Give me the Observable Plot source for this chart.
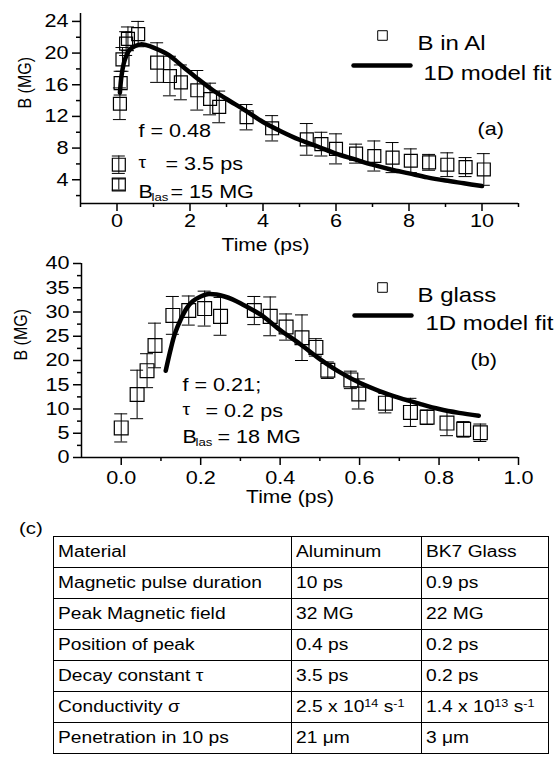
<!DOCTYPE html>
<html><head><meta charset="utf-8">
<script src="https://cdn.jsdelivr.net/npm/d3@7"></script>
<script src="https://cdn.jsdelivr.net/npm/@observablehq/plot@0.6"></script>
<style>
body{margin:0;background:#fff;}
#wrap{position:relative;width:558px;height:764px;overflow:hidden;background:#fff;font-family:"Liberation Sans",Arial,Helvetica,sans-serif;color:#000;}
#wrap svg{position:absolute;left:0;}
#tbl{position:absolute;left:53px;top:536px;width:495px;border-collapse:collapse;font-size:16px;table-layout:fixed;}
#tbl td{border:1.5px solid #000;height:30px;padding:0 0 0 4px;white-space:nowrap;overflow:visible;line-height:1;}
#tbl td span{display:inline-block;transform:scaleX(1.2);transform-origin:0 50%;}
#tbl sup{font-size:10.5px;vertical-align:5px;line-height:0;}
#clab{position:absolute;left:19px;top:519px;font-size:17px;transform:scaleX(1.2);transform-origin:0 50%;}
</style></head><body><div id="wrap"></div>
<script>
// ---------- Panel (a): B in Al ----------
const alT   = [0.05, 0.05, 0.08, 0.10, 0.15, 0.25, 0.30, 0.58, 1.10, 1.45, 1.75, 2.20, 2.55, 2.80, 3.55, 4.25, 5.20, 5.60, 6.00, 6.55, 7.05, 7.55, 8.05, 8.55, 9.05, 9.55, 10.05];
const alB   = [3.4, 5.9, 13.6, 16.2, 19.2, 21.2, 21.8, 22.4, 18.8, 17.1, 16.3, 15.3, 14.2, 13.2, 11.9, 10.5, 9.1, 8.5, 7.9, 7.3, 7.0, 6.8, 6.4, 6.2, 5.9, 5.6, 5.3];
const alErr = [0.7, 1.1, 2.0, 1.5, 1.5, 1.5, 1.5, 1.6, 2.5, 2.5, 2.2, 2.5, 2.0, 2.0, 1.6, 1.6, 2.0, 1.5, 1.9, 1.2, 1.9, 1.9, 1.5, 1.0, 1.5, 1.2, 2.0];
const alFitT = [0.08, 0.12, 0.18, 0.25, 0.36, 0.5, 0.65, 0.8, 1.0, 1.4, 1.8, 2.2, 2.6, 3.0, 3.5, 4.0, 4.5, 5.0, 5.5, 6.0, 6.5, 7.0, 7.5, 8.0, 8.5, 9.0, 9.5, 10.0];
const alFitB = [15.0, 17.0, 18.6, 19.6, 20.5, 20.9, 21.1, 21.0, 20.7, 19.8, 18.3, 16.8, 15.4, 14.2, 12.8, 11.3, 10.1, 9.05, 8.2, 7.3, 6.6, 5.9, 5.3, 4.8, 4.3, 3.9, 3.55, 3.2];
const alXDomain = [-1, 11], alYDomain = [1, 25];
const alXTicks = [0, 2, 4, 6, 8, 10], alXMinor = [-1, 1, 3, 5, 7, 9, 11];
const alYTicks = [4, 8, 12, 16, 20, 24], alYMinor = [2, 6, 10, 14, 18, 22];

// ---------- Panel (b): B glass ----------
const glT   = [0.0, 0.04, 0.065, 0.085, 0.13, 0.17, 0.21, 0.25, 0.335, 0.375, 0.415, 0.455, 0.49, 0.52, 0.578, 0.598, 0.665, 0.728, 0.77, 0.82, 0.862, 0.904];
const glB   = [6.1, 13.0, 17.9, 23.1, 29.3, 30.3, 30.7, 29.1, 30.3, 29.1, 26.9, 24.7, 22.7, 18.0, 16.0, 13.1, 11.2, 9.3, 8.3, 7.1, 5.8, 5.1];
const glErr = [2.9, 5.0, 3.5, 4.6, 3.9, 3.0, 3.6, 3.9, 2.9, 4.0, 2.7, 4.7, 1.8, 1.7, 1.8, 3.1, 2.0, 2.9, 1.5, 2.6, 1.6, 1.8];
const glFitT = [0.112, 0.125, 0.135, 0.15, 0.165, 0.18, 0.2, 0.22, 0.24, 0.26, 0.28, 0.3, 0.35, 0.4, 0.45, 0.5, 0.55, 0.6, 0.65, 0.7, 0.75, 0.8, 0.85, 0.9];
const glFitB = [17.9, 22.5, 25.5, 28.5, 30.8, 32.2, 33.2, 33.7, 33.6, 33.2, 32.6, 31.8, 29.5, 26.3, 23.4, 20.3, 17.6, 15.4, 13.7, 12.3, 11.1, 10.0, 9.2, 8.6];
const glXDomain = [-0.1, 1.0], glYDomain = [0, 40];
const glXTicks = [0, 0.2, 0.4, 0.6, 0.8, 1.0], glXMinor = [0.1, 0.3, 0.5, 0.7, 0.9];
const glYTicks = [0, 5, 10, 15, 20, 25, 30, 35, 40], glYMinor = [2.5, 7.5, 12.5, 17.5, 22.5, 27.5, 32.5, 37.5];

// ---------- Text ----------
const axisTime = "Time (ps)", axisB = "B (MG)", fitName = "1D model fit";
const alName = "B in Al", glName = "B glass";
const alParams = ["f = 0.48", "= 3.5 ps", "= 15 MG"], glParams = ["f = 0.21;", "= 0.2 ps", "= 18 MG"];
const tableHeader = ["Material", "Aluminum", "BK7 Glass"];
const tableRows = [
  ["Magnetic pulse duration", "10 ps", "0.9 ps"],
  ["Peak Magnetic field", "32 MG", "22 MG"],
  ["Position of peak", "0.4 ps", "0.2 ps"],
  ["Decay constant τ", "3.5 ps", "0.2 ps"],
  ["Conductivity σ", "2.5 x 10<sup>14</sup> s<sup>-1</sup>", "1.4 x 10<sup>13</sup> s<sup>-1</sup>"],
  ["Penetration in 10 ps", "21 μm", "3 μm"]
];

const K = 1.2; // horizontal glyph stretch seen in the reference
const FONT = '"Liberation Sans", Arial, Helvetica, sans-serif';
const lineSymbol = {draw(ctx, size) { const h = Math.sqrt(size / Math.PI); ctx.moveTo(-h, 0); ctx.lineTo(h, 0); }};

function panel(cfg) {
  const pts = cfg.t.map((t, i) => ({t, B: cfg.B[i], lo: cfg.B[i] - cfg.err[i], hi: cfg.B[i] + cfg.err[i]}));
  const fit = cfg.fitT.map((t, i) => ({t, B: cfg.fitB[i]}));
  const L = cfg.lay;
  const txt = (s, o) => Plot.text([s], {text: d => d, frameAnchor: "top-left", textAnchor: "start", fill: "black", ...o});
  return Plot.plot({
    width: 558, height: cfg.height,
    marginLeft: cfg.ml, marginRight: 40, marginTop: 13, marginBottom: cfg.height - 13 - 190 - cfg.extraH,
    style: {fontFamily: FONT, fontSize: "18px", color: "black", background: "transparent", overflow: "visible"},
    x: {domain: cfg.xDomain}, y: {domain: cfg.yDomain},
    marks: [
      Plot.ruleX([cfg.xDomain[0]], {stroke: "black", strokeWidth: 1.5}),
      Plot.ruleY([cfg.yDomain[0]], {stroke: "black", strokeWidth: 1.5}),
      Plot.axisX(cfg.xTicks, {tickSize: 8, tickPadding: cfg.xPad, strokeWidth: 1.5, fontSize: 18, tickFormat: cfg.xFmt, label: null}),
      Plot.axisX(cfg.xMinor, {tickSize: 4, strokeWidth: 1.5, text: null, label: null}),
      Plot.axisY(cfg.yTicks, {tickSize: 8, tickPadding: 4, strokeWidth: 1.5, fontSize: 18, label: null}),
      Plot.axisY(cfg.yMinor, {tickSize: 4, strokeWidth: 1.5, text: null, label: null}),
      Plot.ruleX(pts, {x: "t", y1: "lo", y2: "hi", stroke: "black", strokeWidth: 1}),
      Plot.ruleY(pts, {y: "hi", x1: "t", x2: "t", insetLeft: -6.5, insetRight: -6.5, stroke: "black", strokeWidth: 1}),
      Plot.ruleY(pts, {y: "lo", x1: "t", x2: "t", insetLeft: -6.5, insetRight: -6.5, stroke: "black", strokeWidth: 1}),
      Plot.dot(pts, {x: "t", y: "B", symbol: "square", r: cfg.r, stroke: "black", fill: "none", strokeWidth: 1.2}),
      Plot.line(fit, {x: "t", y: "B", stroke: "black", strokeWidth: 4.5, curve: "catmull-rom", strokeLinecap: "round"}),
      // legend
      Plot.dot([0], {frameAnchor: "top-left", dx: L.sq[0], dy: L.sq[1], symbol: "square", r: 5.4, stroke: "black", fill: "none", strokeWidth: 1}),
      txt(cfg.name, {dx: L.name[0], dy: L.name[1], fontSize: 20}),
      Plot.dot([0], {frameAnchor: "top-left", dx: L.ln[0], dy: L.ln[1], symbol: lineSymbol, r: 28.5, stroke: "black", fill: "none", strokeWidth: 4.5, strokeLinecap: "round"}),
      txt(fitName, {dx: L.fit[0], dy: L.fit[1], fontSize: 20}),
      txt(cfg.letter, {dx: L.letter[0], dy: L.letter[1], fontSize: 18}),
      // parameters
      txt(cfg.params[0], {dx: L.f[0], dy: L.f[1], fontSize: 18}),
      txt("τ", {dx: L.tau[0], dy: L.tau[1], fontSize: 16}),
      txt(cfg.params[1], {dx: L.tauv[0], dy: L.tauv[1], fontSize: 18}),
      txt("B", {dx: L.b[0], dy: L.b[1], fontSize: 18}),
      txt("las", {dx: L.las[0], dy: L.las[1], fontSize: 11}),
      txt(cfg.params[2], {dx: L.bv[0], dy: L.bv[1], fontSize: 18}),
      // axis titles
      Plot.text([axisTime], {text: d => d, frameAnchor: "bottom", dx: cfg.tx[0], dy: cfg.tx[1], fontSize: 17.5, fill: "black"}),
      Plot.text([axisB], {text: d => d, frameAnchor: "left", dx: cfg.by, rotate: -90, fontSize: 16, fill: "black"})
    ]
  });
}

function stretch(svg, k) {
  svg.querySelectorAll("text").forEach(t => {
    const tr = t.getAttribute("transform") || "";
    if (/rotate/.test(tr)) { t.setAttribute("transform", `${tr} scale(1,${k})`); return; }
    const x = parseFloat(t.getAttribute("x"));
    const xx = isFinite(x) ? x : 0;
    t.setAttribute("transform", `${tr} translate(${xx},0) scale(${k},1) translate(${-xx},0)`);
  });
}

const wrap = document.getElementById("wrap");

const svgA = panel({
  t: alT, B: alB, err: alErr, fitT: alFitT, fitB: alFitB,
  xDomain: alXDomain, yDomain: alYDomain, xTicks: alXTicks, xMinor: alXMinor, yTicks: alYTicks, yMinor: alYMinor,
  xFmt: d3.format("d"), xPad: 3, ml: 80, height: 262, extraH: 0, r: 7.3,
  name: alName, letter: "(a)", params: alParams,
  tx: [-34, 47], by: -56,
  lay: {sq: [302, 22], name: [337, 22], ln: [301.5, 52], fit: [343, 52], letter: [397, 109],
        f: [58, 111], tau: [58, 143], tauv: [85, 144], b: [58, 172], las: [71, 180], bv: [90, 172]}
});
svgA.style.top = "0px";
stretch(svgA, K);
wrap.appendChild(svgA);

const svgB = panel({
  t: glT, B: glB, err: glErr, fitT: glFitT, fitB: glFitB,
  xDomain: glXDomain, yDomain: glYDomain, xTicks: glXTicks, xMinor: glXMinor, yTicks: glYTicks, yMinor: glYMinor,
  xFmt: d3.format(".1f"), xPad: 6, ml: 81, height: 262, extraH: 4, r: 7.8,
  name: glName, letter: "(b)", params: glParams,
  tx: [-10, 45], by: -61,
  lay: {sq: [301, 24], name: [336, 24], ln: [301.5, 52], fit: [344, 52], letter: [389, 90],
        f: [101, 115], tau: [101, 140], tauv: [124, 141], b: [101, 167], las: [114, 175], bv: [136, 167]}
});
svgB.style.top = "250px";
stretch(svgB, K);
wrap.appendChild(svgB);

// ---------- Table (c) ----------
const clab = document.createElement("div");
clab.id = "clab"; clab.textContent = "(c)";
wrap.appendChild(clab);

const tbl = document.createElement("table");
tbl.id = "tbl";
const cg = document.createElement("colgroup");
[238, 130, 127].forEach(w => { const c = document.createElement("col"); c.style.width = w + "px"; cg.appendChild(c); });
tbl.appendChild(cg);
[tableHeader, ...tableRows].forEach(row => {
  const tr = document.createElement("tr");
  row.forEach(cell => { const td = document.createElement("td"); td.innerHTML = `<span>${cell}</span>`; tr.appendChild(td); });
  tbl.appendChild(tr);
});
wrap.appendChild(tbl);
</script></body></html>
